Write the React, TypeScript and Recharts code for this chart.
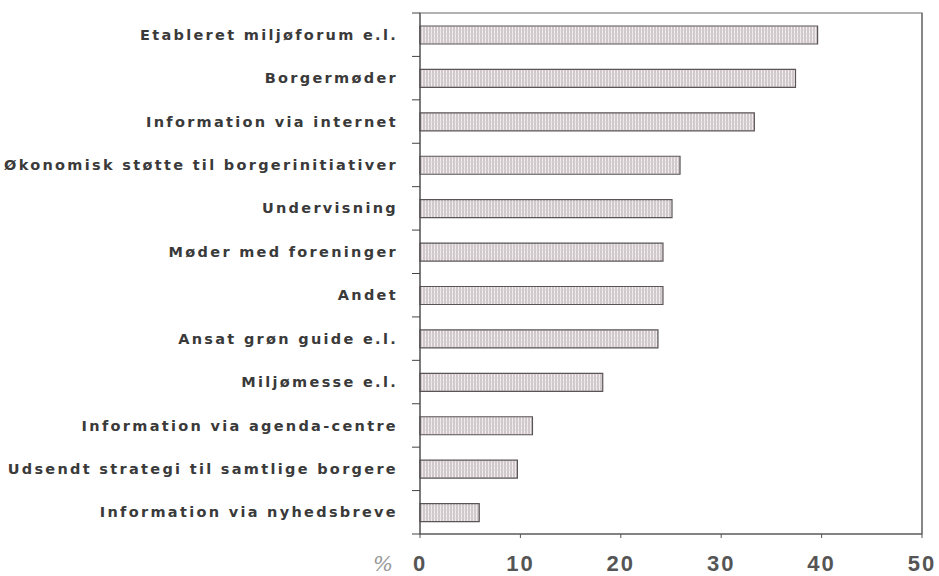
import React from "react";
import { BarChart, Bar, XAxis, YAxis, ReferenceLine, ReferenceArea, Label } from "recharts";

const categories = [
  "Etableret miljøforum e.l.",
  "Borgermøder",
  "Information via internet",
  "Økonomisk støtte til borgerinitiativer",
  "Undervisning",
  "Møder med foreninger",
  "Andet",
  "Ansat grøn guide e.l.",
  "Miljømesse e.l.",
  "Information via agenda-centre",
  "Udsendt strategi til samtlige borgere",
  "Information via nyhedsbreve",
];

const percentages = [39.6, 37.4, 33.3, 25.9, 25.1, 24.2, 24.2, 23.7, 18.2, 11.2, 9.7, 5.9];

const xTicks = [0, 10, 20, 30, 40, 50];

const data = categories.map((name, i) => ({ name, value: percentages[i] }));

const labelFont = "'DejaVu Sans', 'Liberation Sans', sans-serif";
const tickFont = "'Liberation Sans', Arial, sans-serif";

function CategoryTick(props: any) {
  const { x, y, payload, index, visibleTicksCount } = props;
  const half = payload && payload.offset ? payload.offset : 21.7;
  const last = index === (visibleTicksCount ?? categories.length) - 1;
  return (
    <g>
      <line x1={x - 8} x2={x} y1={y - half} y2={y - half} stroke="#444" strokeWidth={1} />
      {last && <line x1={x - 8} x2={x} y1={y + half} y2={y + half} stroke="#444" strokeWidth={1} />}
      <text
        x={x - 22}
        y={y}
        dy="0.35em"
        textAnchor="end"
        fill="#3a3a3a"
        fontFamily={labelFont}
        fontWeight="bold"
        fontSize={14.5}
        letterSpacing={2.3}
      >
        {payload.value}
      </text>
    </g>
  );
}

export default function App() {
  return (
    <div style={{ width: 939, height: 576, background: "#fff" }}>
      <style>{`body{margin:0}`}</style>
      <BarChart
        width={939}
        height={576}
        data={data}
        layout="vertical"
        margin={{ top: 13, right: 17, bottom: 0, left: 0 }}
      >
        <defs>
          <pattern id="hatch" width="3" height="4" patternUnits="userSpaceOnUse">
            <rect width="3" height="4" fill="#f5eff1" />
            <line x1="1" y1="0" x2="1" y2="4" stroke="#aaa2a6" strokeWidth={1} />
            <line x1="0" y1="2" x2="3" y2="2" stroke="#d8cfd3" strokeWidth={0.7} />
          </pattern>
        </defs>
        <ReferenceArea x1={0} x2={50} fill="none" stroke="#999" strokeWidth={1.5} fillOpacity={0} />
        <XAxis
          type="number"
          domain={[0, 50]}
          ticks={xTicks}
          height={42}
          tickSize={4}
          tickMargin={17}
          stroke="#555"
          tick={{ fill: "#555", fontSize: 22, fontWeight: "bold", fontFamily: tickFont, letterSpacing: 2 }}
        >
          <Label
            content={(p: any) => (
              <text
                x={p.viewBox.x - 37}
                y={p.viewBox.y + 37}
                fill="#999"
                fontFamily="'DejaVu Serif', serif"
                fontStyle="italic"
                fontSize={21}
                textAnchor="middle"
              >
                %
              </text>
            )}
          />
        </XAxis>
        <YAxis
          type="category"
          dataKey="name"
          width={420}
          tickSize={0}
          tickMargin={0}
          stroke="#444"
          tick={<CategoryTick />}
          interval={0}
        />
        <ReferenceLine x={50} stroke="#777" strokeWidth={1.5} />
        <Bar
          dataKey="value"
          barSize={18}
          fill="url(#hatch)"
          stroke="#5a5458"
          strokeWidth={1.2}
          isAnimationActive={false}
        />
      </BarChart>
    </div>
  );
}
